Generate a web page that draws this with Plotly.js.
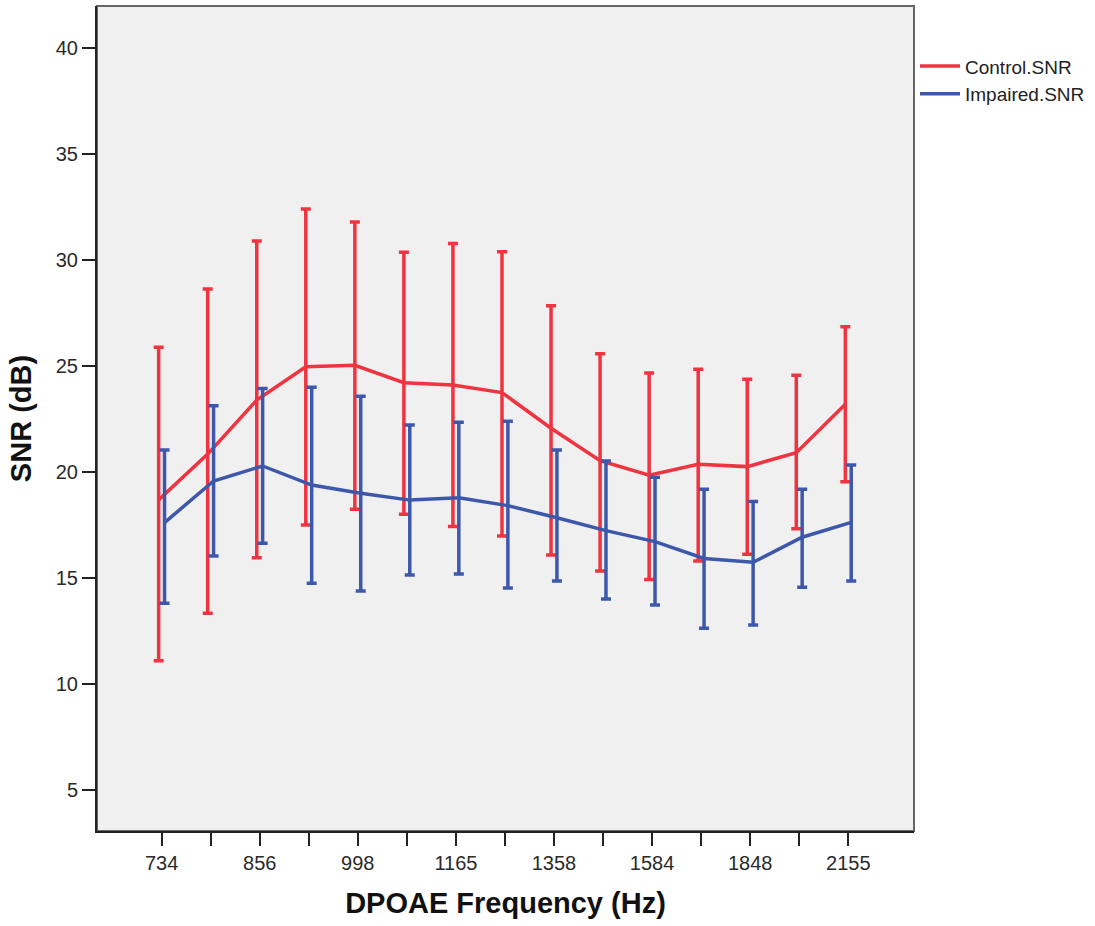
<!DOCTYPE html>
<html>
<head>
<meta charset="utf-8">
<script src="https://cdn.plot.ly/plotly-3.0.1.min.js"></script>
<style>html,body{margin:0;padding:0;background:#fff;}#chart{width:1095px;height:926px;}</style>
</head>
<body>
<div id="chart"></div>
<script>
// Category tick labels (every other frequency is labelled)
const tickLabels = ['734','','856','','998','','1165','','1358','','1584','','1848','','2155'];

// Control group SNR: mean and error-bar ends (dB)
const controlMean  = [18.67, 20.83, 23.38, 24.95, 25.02, 24.20, 24.09, 23.73, 22.05, 20.52, 19.84, 20.35, 20.24, 20.90, 23.18];
const controlUpper = [25.87, 28.62, 30.88, 32.39, 31.78, 30.35, 30.77, 30.38, 27.83, 25.57, 24.66, 24.83, 24.36, 24.55, 26.84];
const controlLower = [11.08, 13.32, 15.94, 17.49, 18.23, 17.99, 17.41, 16.97, 16.07, 15.32, 14.92, 15.79, 16.10, 17.31, 19.53];

// Impaired group SNR: mean and error-bar ends (dB)
const impairedMean  = [17.60, 19.56, 20.27, 19.37, 18.98, 18.66, 18.77, 18.40, 17.83, 17.22, 16.70, 15.91, 15.73, 16.91, 17.61];
const impairedUpper = [21.02, 23.11, 23.93, 23.98, 23.56, 22.20, 22.33, 22.38, 21.02, 20.50, 19.74, 19.17, 18.60, 19.17, 20.32];
const impairedLower = [13.79, 16.02, 16.62, 14.74, 14.37, 15.13, 15.17, 14.51, 14.84, 14.00, 13.71, 12.61, 12.77, 14.55, 14.84];

const idx = tickLabels.map((_, i) => i);
const dodge = 0.06;
const RED = '#ef3340';
const BLUE = '#3d58aa';
const FONT = 'Liberation Sans, Arial, sans-serif';

function errTrace(name, mean, upper, lower, color, shift) {
  return {
    type: 'scatter', mode: 'lines', name: name,
    x: idx.map(i => i + shift), y: mean,
    line: {color: color, width: 3.5},
    error_y: {
      type: 'data', symmetric: false,
      array: upper.map((u, i) => u - mean[i]),
      arrayminus: lower.map((l, i) => mean[i] - l),
      color: color, thickness: 3.5, width: 5
    },
    hoverinfo: 'x+y'
  };
}

const data = [
  errTrace('Control.SNR', controlMean, controlUpper, controlLower, RED, -dodge),
  errTrace('Impaired.SNR', impairedMean, impairedUpper, impairedLower, BLUE, dodge)
];

const layout = {
  width: 1095, height: 926,
  margin: {l: 97, r: 180, t: 6, b: 95},
  paper_bgcolor: '#ffffff',
  plot_bgcolor: '#f0f0f0',
  font: {family: FONT, color: '#222'},
  showlegend: true,
  legend: {
    x: 1.0, xanchor: 'left', y: 0.95, yanchor: 'top',
    bgcolor: 'rgba(0,0,0,0)', borderwidth: 0,
    font: {family: FONT, size: 19, color: '#222'},
    itemwidth: 40, tracegroupgap: 0
  },
  xaxis: {
    type: 'linear',
    range: [-1.317, 15.34],
    tickmode: 'array', tickvals: idx, ticktext: tickLabels,
    ticks: 'outside', ticklen: 13, tickwidth: 2, tickcolor: '#222',
    tickfont: {family: FONT, size: 20, color: '#2a2a2a'},
    showgrid: false, zeroline: false,
    showline: true, linecolor: '#222', linewidth: 2,
    title: {text: 'DPOAE Frequency (Hz)', font: {family: FONT, size: 29, color: '#111', weight: 'bold'}, standoff: 20},
    automargin: false
  },
  yaxis: {
    range: [3.05, 41.97],
    tickmode: 'array', tickvals: [5, 10, 15, 20, 25, 30, 35, 40],
    ticks: 'outside', ticklen: 13, tickwidth: 2, tickcolor: '#222',
    tickfont: {family: FONT, size: 20, color: '#2a2a2a'},
    showgrid: false, zeroline: false,
    showline: true, linecolor: '#222', linewidth: 2,
    title: {text: 'SNR (dB)', font: {family: FONT, size: 29, color: '#111', weight: 'bold'}, standoff: 16},
    automargin: false
  },
  shapes: [{
    type: 'rect', xref: 'paper', yref: 'paper', x0: 0, x1: 1, y0: 0, y1: 1,
    line: {color: '#666', width: 2}, layer: 'below'
  }]
};

Plotly.newPlot('chart', data, layout, {displayModeBar: false, staticPlot: true});
</script>
</body>
</html>
